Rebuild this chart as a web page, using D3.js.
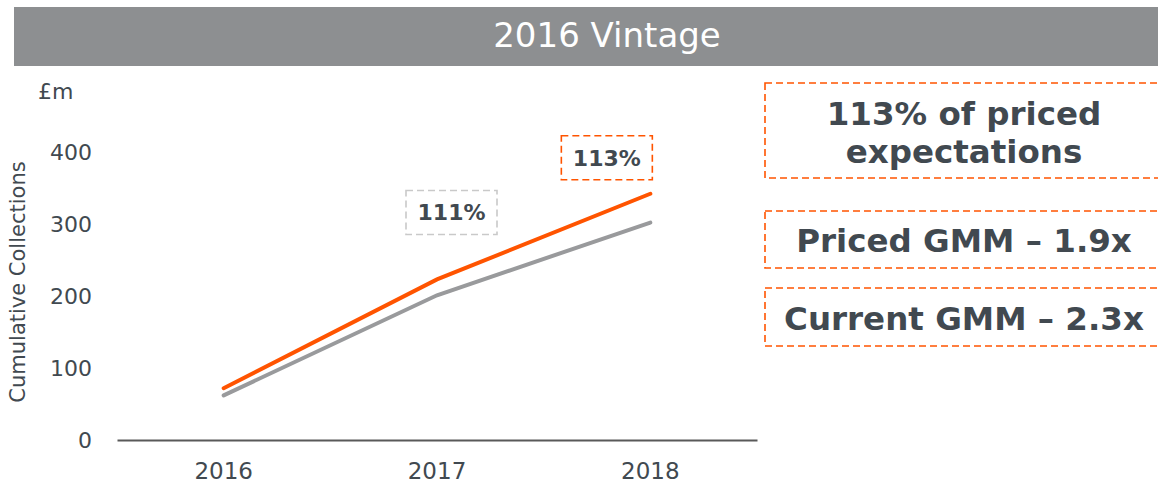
<!DOCTYPE html>
<html>
<head>
<meta charset="utf-8">
<script src="https://cdn.jsdelivr.net/npm/d3@7"></script>
<style>
  body { margin: 0; background: #fff; }
  svg { display: block; font-family: "DejaVu Sans", Verdana, sans-serif; }
</style>
</head>
<body>
<script>
// chart data
var years = ["2016", "2017", "2018"];
var actual = [72, 223, 342];   // orange line, cumulative collections (£m)
var priced = [62, 201, 302];   // grey line, priced expectation
var yTicks = [0, 100, 200, 300, 400];
var pointLabels = [
  { year: "2017", text: "111%", kind: "grey" },
  { year: "2018", text: "113%", kind: "orange" }
];
var sideNotes = [
  ["113% of priced", "expectations"],
  ["Priced GMM \u2013 1.9x"],
  ["Current GMM \u2013 2.3x"]
];

var width = 1158, height = 484;
var orange = "#ff5400", grey = "#999a9c", ink = "#414950";

var svg = d3.select("body").append("svg")
    .attr("width", width)
    .attr("height", height);

// title bar
svg.append("rect")
    .attr("x", 14).attr("y", 7)
    .attr("width", width - 14).attr("height", 59)
    .attr("fill", "#8d8f91");
svg.append("text")
    .attr("x", 607).attr("y", 47)
    .attr("text-anchor", "middle")
    .attr("fill", "#fff")
    .style("font-size", "34px")
    .text("2016 Vintage");

// scales
var x = d3.scaleBand().domain(years).range([117, 757]);
var y = d3.scaleLinear().domain([0, 400]).range([440, 152]);

// y axis (labels only)
var yAxis = svg.append("g")
    .attr("transform", "translate(92,0)")
    .call(d3.axisLeft(y).tickValues(yTicks).tickSize(0).tickPadding(0));
yAxis.select(".domain").remove();
yAxis.selectAll("text")
    .attr("fill", ink)
    .style("font-size", "22px")
    .style("font-family", "'DejaVu Sans', sans-serif");

// x axis
var xAxis = svg.append("g")
    .attr("transform", "translate(0,440)")
    .call(d3.axisBottom(x).tickSize(0).tickPadding(20));
xAxis.select(".domain").attr("stroke", "#595959").attr("stroke-width", 2);
xAxis.selectAll("text")
    .attr("fill", ink)
    .attr("dy", null)
    .attr("y", 39)
    .style("font-size", "23px")
    .style("font-family", "'DejaVu Sans', sans-serif");

// unit and axis title
svg.append("text")
    .attr("x", 38).attr("y", 99)
    .attr("fill", ink)
    .style("font-size", "22px")
    .text("£m");
svg.append("text")
    .attr("transform", "translate(25,282) rotate(-90)")
    .attr("text-anchor", "middle")
    .attr("fill", ink)
    .style("font-size", "21px")
    .text("Cumulative Collections");

// lines
var line = d3.line()
    .x(function(d, i){ return x(years[i]) + x.bandwidth() / 2; })
    .y(function(d){ return y(d); });

svg.append("path")
    .datum(priced)
    .attr("d", line)
    .attr("fill", "none")
    .attr("stroke", grey)
    .attr("stroke-width", 4)
    .attr("stroke-linecap", "round");
svg.append("path")
    .datum(actual)
    .attr("d", line)
    .attr("fill", "none")
    .attr("stroke", orange)
    .attr("stroke-width", 4)
    .attr("stroke-linecap", "round");

// percentage labels above the points
pointLabels.forEach(function(p){
    var cx = x(p.year) + x.bandwidth() / 2;
    var i = years.indexOf(p.year);
    var boxW = 91, boxH = 44;
    var bx = (p.kind == "grey") ? cx - 31 : cx - 89;
    var by = (p.kind == "grey") ? y(actual[i]) - 89 : y(actual[i]) - 58;
    svg.append("rect")
        .attr("x", bx).attr("y", by)
        .attr("width", boxW).attr("height", boxH)
        .attr("fill", "none")
        .attr("stroke", p.kind == "grey" ? "#c9c9c9" : orange)
        .attr("stroke-width", 1.6)
        .attr("stroke-dasharray", "7,4");
    svg.append("text")
        .attr("x", bx + boxW / 2).attr("y", by + boxH / 2 + 8)
        .attr("text-anchor", "middle")
        .attr("fill", ink)
        .style("font-size", "22px")
        .style("font-weight", "bold")
        .text(p.text);
});

// boxes on the right
var boxes = [
    { top: 83, bottom: 178, baselines: [125, 163] },
    { top: 211, bottom: 268, baselines: [252] },
    { top: 288, bottom: 346, baselines: [330] }
];
boxes.forEach(function(b, k){
    svg.append("rect")
        .attr("x", 765).attr("y", b.top)
        .attr("width", 420).attr("height", b.bottom - b.top)
        .attr("fill", "none")
        .attr("stroke", orange)
        .attr("stroke-width", 1.6)
        .attr("stroke-dasharray", "7,4");
    sideNotes[k].forEach(function(t, j){
        svg.append("text")
            .attr("x", 964).attr("y", b.baselines[j])
            .attr("text-anchor", "middle")
            .attr("fill", ink)
            .style("font-size", "32.5px")
            .style("font-weight", "bold")
            .text(t);
    });
});
</script>
</body>
</html>
